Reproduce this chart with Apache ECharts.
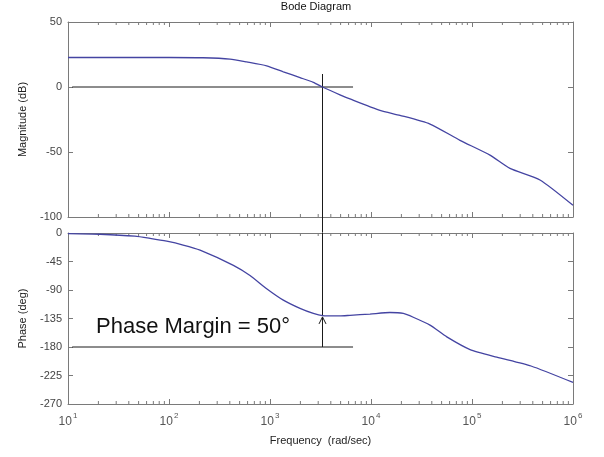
<!DOCTYPE html>
<html><head><meta charset="utf-8">
<script src="https://cdn.jsdelivr.net/npm/echarts@6/dist/echarts.min.js"></script>
<style>html,body{margin:0;padding:0;background:#fff}#c{width:604px;height:457px}</style>
</head><body><div id="c"></div>
<script>
// ---- data ----
const magFreq = [10, 100, 217, 402, 588, 927, 1355, 1982, 2686, 3310, 4930, 6190, 12270, 19360, 38400, 76000, 150700, 237700, 471000, 1000000];
const magDb   = [22.7, 22.7, 22.5, 21.5, 19.3, 16.3, 11.7, 7.2, 3.6, 0, -6, -9.2, -18, -21.8, -28.5, -41, -52.4, -62.6, -71.5, -91];
const phFreq  = [10, 20.7, 46, 65, 95, 138, 203, 434, 634, 927, 1355, 1982, 2686, 3310, 4930, 6190, 9770, 15400, 20900, 26200, 38400, 56300, 95700, 176000, 384000, 1000000];
const phDeg   = [-1, -2, -5, -8.5, -13, -19, -27, -51, -67, -88, -106, -119, -127, -130.5, -131, -130, -128, -125.5, -127, -133, -145.5, -164, -184, -196, -210, -236];
const decadeTicks = [10, 100, 1000, 10000, 100000, 1000000];
const minorMult = [2, 3, 4, 5, 6, 7, 8, 9];
const crossFreq = 3310;
const pmLineStart = 11, pmLineEnd = 6640;
const pmPhase = -131, refPhase = -180;
const magVTop = 10;

const MAG_MIN = -100, MAG_MAX = 50, PH_MIN = -270, PH_MAX = 0;
const minorFreqs = [];
decadeTicks.slice(0, -1).forEach(d => minorMult.forEach(m => minorFreqs.push(d * m)));

const AX = '#7a7a7a', FONT = '"Liberation Sans", Arial, sans-serif';

function xAx(grid, pos, labels) {
  return {
    type: 'log', logBase: 10, gridIndex: grid, position: pos, min: 10, max: 1000000, splitNumber: 5,
    axisLine: {show: true, onZero: false, lineStyle: {color: AX, width: 1}},
    axisTick: {show: true, inside: true, length: 5, lineStyle: {color: AX}},
    splitLine: {show: false},
    axisLabel: labels ? {
      show: true, margin: 8, color: '#555', fontFamily: FONT,
      formatter: v => '{b|10}{s|' + Math.round(Math.log10(v)) + '}',
      rich: {b: {fontSize: 12, fontFamily: FONT, color: '#555', lineHeight: 16, verticalAlign: 'bottom'},
             s: {fontSize: 8, fontFamily: FONT, color: '#555', lineHeight: 8, verticalAlign: 'bottom', padding: [0, 0, 8, 1]}}
    } : {show: false},
    name: labels ? 'Frequency  (rad/sec)' : '', nameLocation: 'middle', nameGap: 31,
    nameTextStyle: {fontSize: 11, color: '#222', fontFamily: FONT}
  };
}
function yAx(grid, pos, min, max, interval, name) {
  return {
    type: 'value', gridIndex: grid, position: pos, min: min, max: max, interval: interval,
    axisLine: {show: true, lineStyle: {color: AX, width: 1}},
    axisTick: {show: true, inside: true, length: 5, lineStyle: {color: AX}},
    splitLine: {show: false},
    axisLabel: name ? {show: true, margin: 6, fontSize: 11, color: '#444', fontFamily: FONT} : {show: false},
    name: name || '', nameLocation: 'middle', nameGap: 40, nameRotate: 90,
    nameTextStyle: {fontSize: 11, color: '#222', fontFamily: FONT}
  };
}

function minorTickSeries(xi, yi, ymin, ymax) {
  return {
    type: 'custom', xAxisIndex: xi, yAxisIndex: yi, silent: true, clip: false,
    data: minorFreqs.map(f => [f]),
    renderItem: (params, api) => {
      const f = api.value(0);
      const b = api.coord([f, ymin]), t = api.coord([f, ymax]);
      const st = {stroke: AX, lineWidth: 1};
      return {type: 'group', children: [
        {type: 'line', shape: {x1: b[0], y1: b[1], x2: b[0], y2: b[1] - 3}, style: st},
        {type: 'line', shape: {x1: t[0], y1: t[1], x2: t[0], y2: t[1] + 3}, style: st}
      ]};
    }
  };
}
const annStyle = {color: '#1a1a1a', width: 1};
function seg(xi, yi, pts, clip) {
  return {type: 'line', xAxisIndex: xi, yAxisIndex: yi, data: pts, symbol: 'none', silent: true,
    clip: clip !== false, lineStyle: annStyle, z: 3, animation: false};
}
const curveStyle = {color: '#4444a2', width: 1.3};

const option = {
  animation: false,
  backgroundColor: '#fff',
  grid: [
    {left: 68, top: 22, width: 505, height: 195},
    {left: 68, top: 233, width: 505, height: 171}
  ],
  xAxis: [xAx(0, 'bottom', false), xAx(0, 'top', false), xAx(1, 'bottom', true), xAx(1, 'top', false)],
  yAxis: [yAx(0, 'left', MAG_MIN, MAG_MAX, 50, 'Magnitude (dB)'), yAx(0, 'right', MAG_MIN, MAG_MAX, 50),
          yAx(1, 'left', PH_MIN, PH_MAX, 45, 'Phase (deg)'), yAx(1, 'right', PH_MIN, PH_MAX, 45)],
  series: [
    {type: 'line', xAxisIndex: 0, yAxisIndex: 0, data: magFreq.map((f, i) => [f, magDb[i]]),
     symbol: 'none', smooth: 0.2, lineStyle: curveStyle, z: 4},
    {type: 'line', xAxisIndex: 2, yAxisIndex: 2, data: phFreq.map((f, i) => [f, phDeg[i]]),
     symbol: 'none', smooth: 0.2, lineStyle: curveStyle, z: 4},
    minorTickSeries(0, 0, MAG_MIN, MAG_MAX),
    minorTickSeries(2, 2, PH_MIN, PH_MAX),
    seg(0, 0, [[pmLineStart, 0], [pmLineEnd, 0]]),
    seg(0, 0, [[crossFreq, magVTop], [crossFreq, MAG_MIN - 12]], false),
    seg(2, 2, [[crossFreq, PH_MAX], [crossFreq, pmPhase + 1]]),
    seg(2, 2, [[pmLineStart, refPhase], [pmLineEnd, refPhase]]),
    seg(2, 2, [[crossFreq, refPhase], [crossFreq, pmPhase - 1.5]]),
    {type: 'custom', xAxisIndex: 2, yAxisIndex: 2, silent: true, clip: false, z: 5,
     data: [[crossFreq, pmPhase - 1.5]],
     renderItem: (params, api) => {
       const p = api.coord([api.value(0), api.value(1)]);
       return {type: 'polyline', shape: {points: [[p[0] - 3.5, p[1] + 7], [p[0], p[1]], [p[0] + 3.5, p[1] + 7]]},
               style: {stroke: '#1a1a1a', lineWidth: 1, fill: null}};
     }}
  ],
  graphic: [
    {type: 'text', x: 316, y: 7, style: {text: 'Bode Diagram', fontSize: 11, fill: '#111', fontFamily: FONT, textAlign: 'center', textVerticalAlign: 'middle'}},
    {type: 'text', x: 96, y: 327, style: {text: 'Phase Margin = 50°', fontSize: 22, fill: '#111', fontFamily: FONT, textAlign: 'left', textVerticalAlign: 'middle'}}
  ]
};
echarts.init(document.getElementById('c')).setOption(option);
</script></body></html>
